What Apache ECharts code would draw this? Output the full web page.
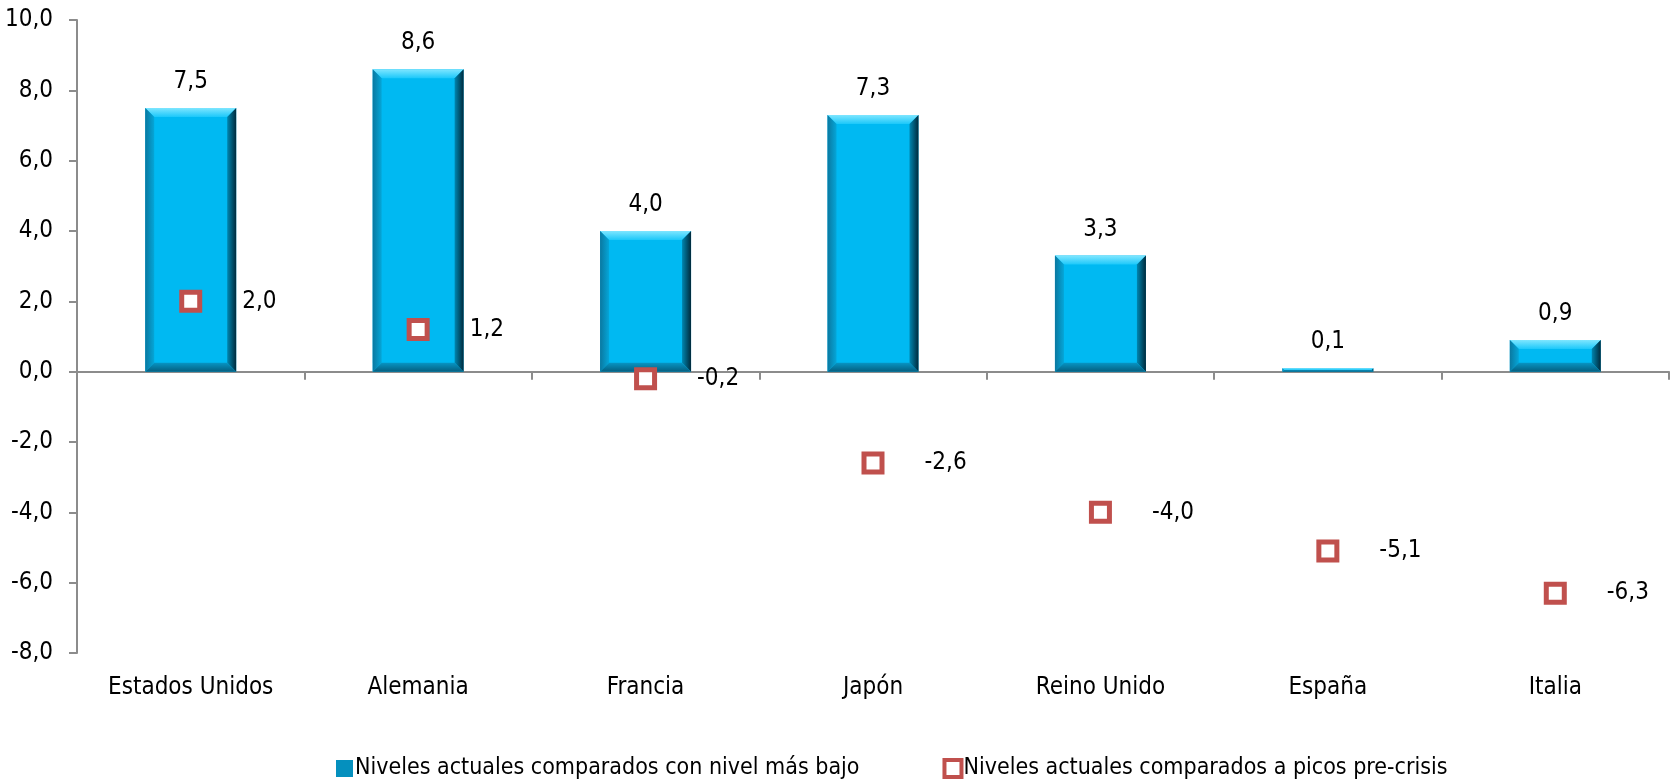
<!DOCTYPE html>
<html><head><meta charset="utf-8">
<script src="https://cdn.jsdelivr.net/npm/echarts@6/dist/echarts.min.js"></script>
<style>html,body{margin:0;padding:0;background:#fff}#c{width:1671px;height:784px}</style>
</head><body><div id="c"></div>
<script>
const categories = ['Estados Unidos','Alemania','Francia','Japón','Reino Unido','España','Italia'];
const barValues = [7.5, 8.6, 4.0, 7.3, 3.3, 0.1, 0.9];
const pointValues = [2.0, 1.2, -0.2, -2.6, -4.0, -5.1, -6.3];
const seriesNames = ['Niveles actuales comparados con nivel más bajo','Niveles actuales comparados a picos pre-crisis'];
const yTicks = {min:-8, max:10, interval:2};

const FONT = "'DejaVu Sans Condensed','Liberation Sans Narrow','Arial Narrow',sans-serif";
const FS = 24;
const fmt = v => v.toFixed(1).replace('.', ',');
const chart = echarts.init(document.getElementById('c'));

function renderBar(params, api){
  const idx = api.value(0), v = api.value(1);
  const p0 = api.coord([idx, 0]), p1 = api.coord([idx, v]);
  const bw = api.size([1,0])[0]*0.4;
  const l = p0[0]-bw/2, r = p0[0]+bw/2;
  const top = Math.min(p0[1],p1[1]), bot = Math.max(p0[1],p1[1]);
  const h = bot-top;
  const b = Math.min(9, h/2, bw/2);
  const children = [
    {type:'rect', shape:{x:l, y:top, width:bw, height:h}, style:{fill:'#00B9F2'}},
    {type:'polygon', shape:{points:[[l,top],[r,top],[r-b,top+b],[l+b,top+b]]}, style:{fill:new echarts.graphic.LinearGradient(0,0,0,1,[{offset:0,color:'#7FE6FF'},{offset:1,color:'#1CC8FA'}])}},
    {type:'polygon', shape:{points:[[l,top],[l+b,top+b],[l+b,bot-b],[l,bot]]}, style:{fill:new echarts.graphic.LinearGradient(0,0,1,0,[{offset:0,color:'#0A78A0'},{offset:1,color:'#05A6D8'}])}},
    {type:'polygon', shape:{points:[[r,top],[r,bot],[r-b,bot-b],[r-b,top+b]]}, style:{fill:new echarts.graphic.LinearGradient(0,0,1,0,[{offset:0,color:'#0086B0'},{offset:1,color:'#002A3C'}])}},
    {type:'polygon', shape:{points:[[l,bot],[l+b,bot-b],[r-b,bot-b],[r,bot]]}, style:{fill:new echarts.graphic.LinearGradient(0,0,0,1,[{offset:0,color:'#0795C4'},{offset:1,color:'#055F80'}])}},
    {type:'text', style:{text:fmt(v), x:p0[0], y:top-14, align:'center', verticalAlign:'bottom', font:FS+'px '+FONT, fill:'#000'}}
  ];
  return {type:'group', children};
}

chart.setOption({
  animation:false,
  grid:{left:77, right:2, top:20, bottom:131},
  legend:{
    top:752, left:331, itemGap:83, itemWidth:17, itemHeight:17, padding:[5,5,5,5],
    textStyle:{fontFamily:FONT, fontSize:23, color:'#000', padding:[0,0,0,-3]},
    data:[
      {name:seriesNames[0], icon:'rect', itemStyle:{color:'#0590BE'}},
      {name:seriesNames[1], icon:'rect', itemStyle:{color:'#fff', borderColor:'#C0504D', borderWidth:4}}
    ]
  },
  xAxis:[
    {type:'category', data:categories, position:'bottom',
     axisLine:{show:false, onZero:false}, axisTick:{show:false},
     axisLabel:{margin:23, interval:0, fontFamily:FONT, fontSize:FS, color:'#000'}},
    {type:'category', data:categories, position:'bottom',
     axisLine:{show:true, onZero:true, lineStyle:{color:'#8c8c8c', width:2}},
     axisTick:{show:true, length:8, lineStyle:{color:'#8c8c8c', width:2}},
     axisLabel:{show:false}}
  ],
  yAxis:{type:'value', min:yTicks.min, max:yTicks.max, interval:yTicks.interval,
    splitLine:{show:false},
    axisLine:{show:true, lineStyle:{color:'#8c8c8c', width:2}},
    axisTick:{show:true, length:8, lineStyle:{color:'#8c8c8c', width:2}},
    axisLabel:{margin:24, fontFamily:FONT, fontSize:FS, color:'#000', formatter:v=>fmt(v)}},
  series:[
    {name:seriesNames[0], type:'custom', xAxisIndex:0, renderItem:renderBar,
     data:barValues.map((v,i)=>[i,v]), z:2},
    {name:seriesNames[1], type:'scatter', xAxisIndex:0, symbol:'rect', symbolSize:18,
     itemStyle:{color:'#fff', borderColor:'#C0504D', borderWidth:5, opacity:1},
     label:{show:true, position:'right', distance:40, formatter:p=>fmt(p.value[1]),
       fontFamily:FONT, fontSize:FS, color:'#000'},
     data:pointValues.map((v,i)=>[i,v]), z:5}
  ]
});
</script></body></html>
